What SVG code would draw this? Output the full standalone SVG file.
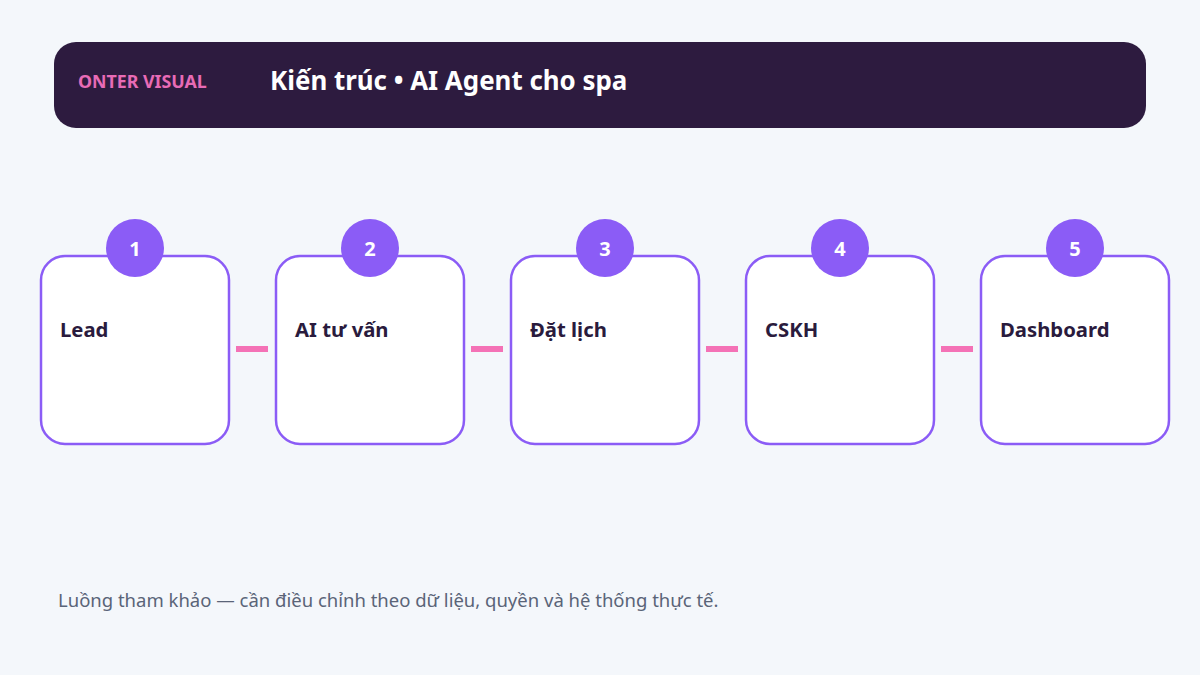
<svg xmlns="http://www.w3.org/2000/svg" width="1200" height="675" viewBox="0 0 1200 675">
<style>
.card{fill:#ffffff;stroke:#8b5cf6;stroke-width:2.5}
.badge{fill:#8b5cf6}
.num{font-family:"Noto Sans","Open Sans",sans-serif;font-weight:700;font-size:20px;fill:#ffffff;text-anchor:middle}
.lbl{font-family:"Noto Sans","Open Sans",sans-serif;font-weight:700;font-size:20.3px;fill:#2a1b3d}
.conn{fill:#f472b6}
</style>
<rect width="1200" height="675" fill="#f4f7fb"/>
<g id="header">
<rect x="54" y="42" width="1092" height="86" rx="22" fill="#2d1b3f"/>
<text x="78" y="88" font-family="'Noto Sans','Open Sans',sans-serif" font-weight="700" font-size="17.8" fill="#e86bb6">ONTER VISUAL</text>
<text x="270" y="90" font-family="'Noto Sans','Open Sans',sans-serif" font-weight="700" font-size="25.9" fill="#ffffff">Kiến trúc • AI Agent cho spa</text>
</g>
<g id="connectors">
<rect class="conn" x="236" y="346" width="32" height="6"/>
<rect class="conn" x="471" y="346" width="32" height="6"/>
<rect class="conn" x="706" y="346" width="32" height="6"/>
<rect class="conn" x="941" y="346" width="32" height="6"/>
</g>
<g id="node1">
<rect class="card" x="41" y="256" width="188" height="188" rx="24"/>
<circle class="badge" cx="135" cy="248" r="29"/>
<text class="num" x="135" y="256">1</text>
<text class="lbl" x="60" y="337">Lead</text>
</g>
<g id="node2">
<rect class="card" x="276" y="256" width="188" height="188" rx="24"/>
<circle class="badge" cx="370" cy="248" r="29"/>
<text class="num" x="370" y="256">2</text>
<text class="lbl" x="295" y="337">AI tư vấn</text>
</g>
<g id="node3">
<rect class="card" x="511" y="256" width="188" height="188" rx="24"/>
<circle class="badge" cx="605" cy="248" r="29"/>
<text class="num" x="605" y="256">3</text>
<text class="lbl" x="530" y="337">Đặt lịch</text>
</g>
<g id="node4">
<rect class="card" x="746" y="256" width="188" height="188" rx="24"/>
<circle class="badge" cx="840" cy="248" r="29"/>
<text class="num" x="840" y="256">4</text>
<text class="lbl" x="765" y="337">CSKH</text>
</g>
<g id="node5">
<rect class="card" x="981" y="256" width="188" height="188" rx="24"/>
<circle class="badge" cx="1075" cy="248" r="29"/>
<text class="num" x="1075" y="256">5</text>
<text class="lbl" x="1000" y="337">Dashboard</text>
</g>
<text x="58" y="607" font-family="'Noto Sans','Open Sans',sans-serif" font-size="18.5" fill="#5a6478">Luồng tham khảo — cần điều chỉnh theo dữ liệu, quyền và hệ thống thực tế.</text>
</svg>
